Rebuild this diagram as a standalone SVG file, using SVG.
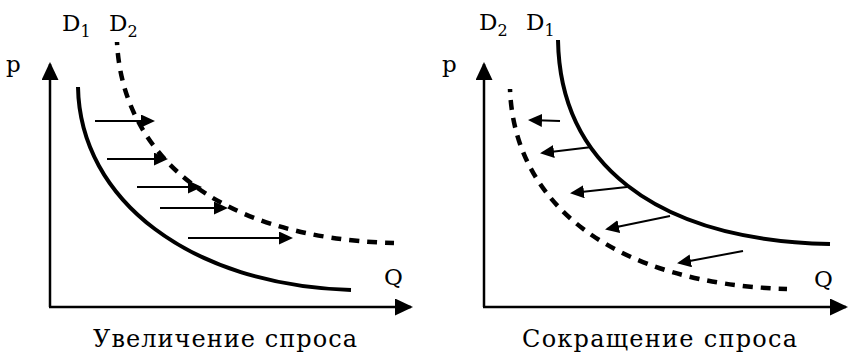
<svg xmlns="http://www.w3.org/2000/svg" width="850" height="357" viewBox="0 0 850 357">
<style>
text{font-family:"DejaVu Serif","Liberation Serif",serif;fill:#000}
.lbl{font-size:23px}
.sub{font-size:16px}
.title{font-size:24px}
.axis{stroke:#000;stroke-width:2.5;fill:none;marker-end:url(#axHead)}
.solid{stroke:#000;stroke-width:4;fill:none}
.dash{stroke:#000;stroke-width:4.5;fill:none;stroke-dasharray:10 8}
.arr{stroke:#000;stroke-width:2;fill:none;marker-end:url(#arHead)}
</style>
<defs>
<marker id="axHead" viewBox="0 0 18 17" refX="16" refY="8.5" markerWidth="18" markerHeight="17" markerUnits="userSpaceOnUse" orient="auto">
<path d="M0,0 L18,8.5 L0,17 z" fill="#000"/>
</marker>
<marker id="arHead" viewBox="0 0 14 13" refX="12" refY="6.5" markerWidth="14" markerHeight="13" markerUnits="userSpaceOnUse" orient="auto">
<path d="M0,0 L14,6.5 L0,13 z" fill="#000"/>
</marker>
</defs>

<g id="left-chart">
<g id="left-axes">
<path class="axis" d="M50,307 L50,64"/>
<path class="axis" d="M49,307 L411,307"/>
<text class="lbl" x="6" y="72">p</text>
<text class="lbl" x="384" y="285">Q</text>
</g>
<g id="left-D1">
<path class="solid" d="M78,87 C80,200 190,285 351,290"/>
<text class="lbl" x="62" y="31">D<tspan class="sub" dy="6">1</tspan></text>
</g>
<g id="left-D2">
<path class="dash" d="M117,42 C122,150 210,238 394,243" stroke-dashoffset="7"/>
<text class="lbl" x="109" y="31">D<tspan class="sub" dy="6">2</tspan></text>
</g>
<g id="left-shift-arrows">
<path class="arr" d="M95,121 L153,121"/>
<path class="arr" d="M107,159 L166,159"/>
<path class="arr" d="M137,187 L200,187"/>
<path class="arr" d="M160,208 L226,208"/>
<path class="arr" d="M188,238 L291,238"/>
</g>
<text id="left-title" class="title" x="93" y="347" textLength="264" lengthAdjust="spacing">Увеличение спроса</text>
</g>

<g id="right-chart">
<g id="right-axes">
<path class="axis" d="M484,307 L484,64"/>
<path class="axis" d="M483,307 L846,307"/>
<text class="lbl" x="442" y="72">p</text>
<text class="lbl" x="814" y="287">Q</text>
</g>
<g id="right-D1">
<path class="solid" d="M558,40 C560,160 650,240 830,244"/>
<text class="lbl" x="526" y="30">D<tspan class="sub" dy="6">1</tspan></text>
</g>
<g id="right-D2">
<path class="dash" d="M510,89 C514,205 615,284 787,289" stroke-dashoffset="7"/>
<text class="lbl" x="479" y="30">D<tspan class="sub" dy="6">2</tspan></text>
</g>
<g id="right-shift-arrows">
<path class="arr" d="M560,121 L530,120"/>
<path class="arr" d="M592,147 L542,153"/>
<path class="arr" d="M627,187 L572,193"/>
<path class="arr" d="M670,216 L607,229"/>
<path class="arr" d="M743,251 L679,263"/>
</g>
<text id="right-title" class="title" x="522" y="347" textLength="275" lengthAdjust="spacing">Сокращение спроса</text>
</g>
</svg>
